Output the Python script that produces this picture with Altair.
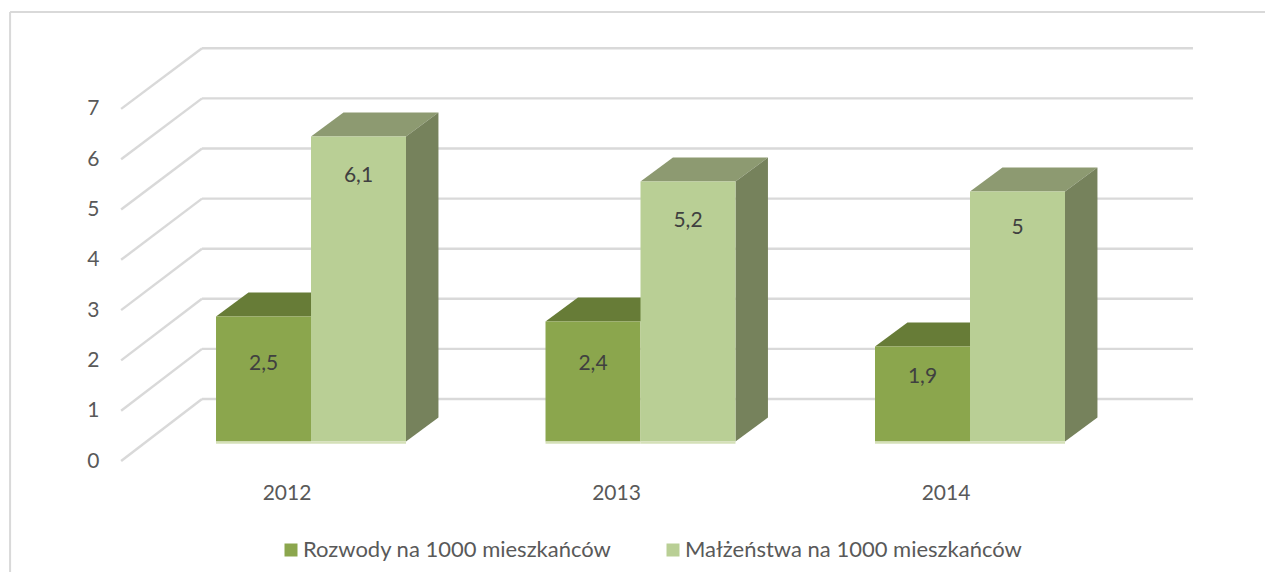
import altair as alt
import pandas as pd

# --- data
YEARS = ["2012", "2013", "2014"]
ROZWODY = [2.5, 2.4, 1.9]
MALZENSTWA = [6.1, 5.2, 5.0]
VALUE_LABELS_R = ["2,5", "2,4", "1,9"]
VALUE_LABELS_M = ["6,1", "5,2", "5"]
TICKS = [0, 1, 2, 3, 4, 5, 6, 7]
SERIES = ["Rozwody na 1000 mieszkańców", "Małżeństwa na 1000 mieszkańców"]

# --- oblique projection, in chart units (x: one unit per year, y: one unit per value)
W, H = 1257, 564
X_DOMAIN = [-0.6313, 3.1836]
Y_DOMAIN = [-2.61, 8.67]
BAR = 0.2883
DX, DY = 0.0985, 0.48
FLOOR = 0.045
BACK_X0, BACK_X1 = -0.0425, 2.965
FRONT_X = -0.288
FRONT_V0, FRONT_STEP = -0.39, 1.006
BACK_V0, BACK_STEP = 0.85, 1.002
LABEL_DROP_R = [0.94, 0.84, 0.60]
LABEL_DROP_M = [0.78, 0.78, 0.72]

GREEN, GREEN_TOP = "#8ba64d", "#677c37"
LIGHT, LIGHT_TOP, LIGHT_SIDE = "#b9cf95", "#8d9a71", "#76825c"
GRID = "#d9d9d9"
TEXT = "#595959"
FONT = "Lato"

xs = alt.Scale(domain=X_DOMAIN, nice=False, zero=False)
ys = alt.Scale(domain=Y_DOMAIN, nice=False, zero=False)
X = lambda f: alt.X(f, type="quantitative", scale=xs, axis=None, title=None)
Y = lambda f: alt.Y(f, type="quantitative", scale=ys, axis=None, title=None)


def seg(rows, color, width=2.4):
    return alt.Chart(pd.DataFrame(rows)).mark_rule(
        color=color, strokeWidth=width, strokeCap="butt"
    ).encode(x=X("x"), y=Y("y"), x2="x2", y2="y2")


# frame (top and left edges)
frame = seg(
    [
        dict(x=-0.625, x2=-0.625, y=8.59, y2=Y_DOMAIN[0]),
        dict(x=-0.625, x2=X_DOMAIN[1], y=8.59, y2=8.59),
    ],
    GRID,
    2,
)

# gridlines: back wall and side wall
grid_rows = []
for t in TICKS:
    back = BACK_V0 + BACK_STEP * t
    grid_rows.append(dict(x=BACK_X0, x2=BACK_X1, y=back, y2=back))
    grid_rows.append(dict(x=FRONT_X, x2=BACK_X0, y=FRONT_V0 + FRONT_STEP * t, y2=back))
grid = seg(grid_rows, GRID)

bars = []
for i, (r, m) in enumerate(zip(ROZWODY, MALZENSTWA)):
    bars.append(dict(series=SERIES[0], slot=0, x0=i, x1=i + BAR, v=r))
    bars.append(dict(series=SERIES[1], slot=1, x0=i + BAR, x1=i + 2 * BAR, v=m))
bars_df = pd.DataFrame(bars)


def top_face(df, color):
    rows = []
    for k, b in df.iterrows():
        rows.append(dict(id=k, y=b.v, a=b.x0, b=b.x1))
        rows.append(dict(id=k, y=b.v + DY, a=b.x0 + DX, b=b.x1 + DX))
    return alt.Chart(pd.DataFrame(rows)).mark_area(
        orient="horizontal", color=color, opacity=1, interpolate="linear"
    ).encode(y=Y("y"), x=X("a"), x2="b", detail="id:N")


def side_face(df, color):
    rows = []
    for k, b in df.iterrows():
        rows.append(dict(id=k, x=b.x1, lo=0, hi=b.v))
        rows.append(dict(id=k, x=b.x1 + DX, lo=DY, hi=b.v + DY))
    return alt.Chart(pd.DataFrame(rows)).mark_area(
        orient="vertical", color=color, opacity=1, interpolate="linear"
    ).encode(x=X("x"), y=Y("lo"), y2="hi", detail="id:N")


green_df = bars_df[bars_df.slot == 0]
light_df = bars_df[bars_df.slot == 1]

front = alt.Chart(bars_df).mark_rect(opacity=1).encode(
    x=X("x0"),
    x2="x1",
    y=alt.Y("base:Q", scale=ys, axis=None, title=None),
    y2="v",
    color=alt.Color(
        "series:N",
        sort=SERIES,
        scale=alt.Scale(domain=SERIES, range=[GREEN, LIGHT]),
        legend=alt.Legend(
            title=None,
            orient="none",
            legendX=272,
            legendY=531,
            direction="horizontal",
            symbolType="square",
            symbolSize=169,
            symbolStrokeWidth=0,
            symbolOpacity=1,
            labelFont=FONT,
            labelFontSize=22,
            labelColor=TEXT,
            labelLimit=500,
            labelOffset=1,
            columnPadding=50,
            columns=2,
        ),
    ),
).transform_calculate(base="0")

# thin pale strip at the foot of the bars (the bottom face seen through)
floor_df = bars_df.assign(lo=-FLOOR, hi=0.0)
floor = alt.Chart(floor_df).mark_rect(opacity=1, color="#d5e0b8").encode(
    x=X("x0"), x2="x1", y=Y("lo"), y2="hi"
)

# texts
value_df = pd.DataFrame(
    [
        dict(x=i + BAR * 0.5, y=v - d, t=t)
        for i, (v, d, t) in enumerate(zip(ROZWODY, LABEL_DROP_R, VALUE_LABELS_R))
    ]
    + [
        dict(x=i + BAR * 1.5, y=v - d, t=t)
        for i, (v, d, t) in enumerate(zip(MALZENSTWA, LABEL_DROP_M, VALUE_LABELS_M))
    ]
)
value_text = alt.Chart(value_df).mark_text(
    font=FONT, fontSize=21, color="#404040", baseline="middle", align="center"
).encode(x=X("x"), y=Y("y"), text="t:N")

year_df = pd.DataFrame([dict(x=i + 0.2155, y=-1.05, t=y) for i, y in enumerate(YEARS)])
year_text = alt.Chart(year_df).mark_text(
    font=FONT, fontSize=21, color=TEXT, baseline="middle", align="center"
).encode(x=X("x"), y=Y("y"), text="t:N")

tick_df = pd.DataFrame(
    [dict(x=-0.372, y=FRONT_V0 - 0.01 + FRONT_STEP * t, t=str(t)) for t in TICKS]
)
tick_text = alt.Chart(tick_df).mark_text(
    font=FONT, fontSize=21, color=TEXT, baseline="middle", align="center"
).encode(x=X("x"), y=Y("y"), text="t:N")

chart = (
    alt.layer(
        frame,
        grid,
        top_face(green_df, GREEN_TOP),
        top_face(light_df, LIGHT_TOP),
        side_face(light_df, LIGHT_SIDE),
        front,
        floor,
        value_text,
        year_text,
        tick_text,
    )
    .properties(width=W, height=H, padding=0, autosize=alt.AutoSizeParams(type="none"))
    .configure(background="white")
    .configure_view(stroke=None)
)

chart.save("out.html", embed_options={"renderer": "svg", "actions": False})
